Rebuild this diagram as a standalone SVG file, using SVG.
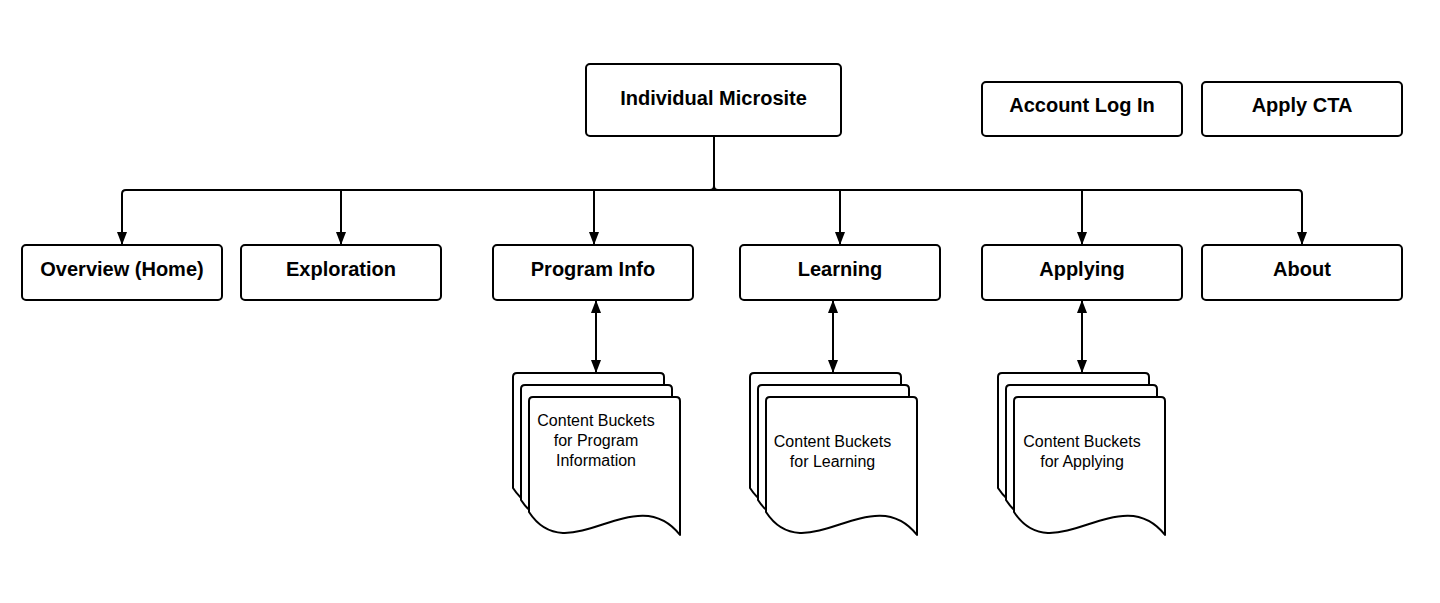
<svg xmlns="http://www.w3.org/2000/svg" xmlns:xlink="http://www.w3.org/1999/xlink" width="1440" height="603" viewBox="0 0 1440 603">
<style>
.box{fill:#fff;stroke:#000;stroke-width:2}
.page{fill:#fff;stroke:#000;stroke-width:2;stroke-linejoin:round}
.t{font-family:"Liberation Sans",Arial,sans-serif;font-weight:bold;font-size:20px;fill:#000;text-anchor:middle}
.d{font-family:"Liberation Sans",Arial,sans-serif;font-size:16px;fill:#000;text-anchor:middle}
.c{fill:none;stroke:#000;stroke-width:2}
</style>
<defs>
<marker id="arr" viewBox="0 0 13 10" refX="13" refY="5" markerWidth="13" markerHeight="10" orient="auto-start-reverse" markerUnits="userSpaceOnUse">
<path d="M0,0 L13,5 L0,10 z" fill="#000"/>
</marker>
<path id="page" d="M0,4 Q0,0 4,0 H147 Q151,0 151,4 V138 C106,81 39,175 0,115 Z"/>
<g id="stack">
<use xlink:href="#page" class="page" transform="translate(-16,-24)"/>
<use xlink:href="#page" class="page" transform="translate(-8,-12)"/>
<use xlink:href="#page" class="page"/>
</g>
</defs>
<rect width="1440" height="603" fill="#fff"/>

<g id="connectors">
<path class="c" d="M122,238 V194 Q122,190 126,190 H1298 Q1302,190 1302,194 V238"/>
<path class="c" d="M714,136 V186 Q714,190 710,190 M714,186 Q714,190 718,190"/>
<path class="c" d="M122,200 V245" marker-end="url(#arr)"/>
<path class="c" d="M341,190 V245" marker-end="url(#arr)"/>
<path class="c" d="M594,190 V245" marker-end="url(#arr)"/>
<path class="c" d="M840,190 V245" marker-end="url(#arr)"/>
<path class="c" d="M1082,190 V245" marker-end="url(#arr)"/>
<path class="c" d="M1302,200 V245" marker-end="url(#arr)"/>
<path class="c" d="M596,300 V373" marker-start="url(#arr)" marker-end="url(#arr)"/>
<path class="c" d="M833,300 V373" marker-start="url(#arr)" marker-end="url(#arr)"/>
<path class="c" d="M1082,300 V373" marker-start="url(#arr)" marker-end="url(#arr)"/>
</g>

<g id="microsite"><rect class="box" x="586" y="64" width="255" height="72" rx="4"/><text class="t" x="713.5" y="105">Individual Microsite</text></g>
<g id="account-login"><rect class="box" x="982" y="82" width="200" height="54" rx="4"/><text class="t" x="1082" y="112">Account Log In</text></g>
<g id="apply-cta"><rect class="box" x="1202" y="82" width="200" height="54" rx="4"/><text class="t" x="1302" y="112">Apply CTA</text></g>

<g id="overview"><rect class="box" x="22" y="245" width="200" height="55" rx="4"/><text class="t" x="122" y="276">Overview (Home)</text></g>
<g id="exploration"><rect class="box" x="241" y="245" width="200" height="55" rx="4"/><text class="t" x="341" y="276">Exploration</text></g>
<g id="program-info"><rect class="box" x="493" y="245" width="200" height="55" rx="4"/><text class="t" x="593" y="276">Program Info</text></g>
<g id="learning"><rect class="box" x="740" y="245" width="200" height="55" rx="4"/><text class="t" x="840" y="276">Learning</text></g>
<g id="applying"><rect class="box" x="982" y="245" width="200" height="55" rx="4"/><text class="t" x="1082" y="276">Applying</text></g>
<g id="about"><rect class="box" x="1202" y="245" width="200" height="55" rx="4"/><text class="t" x="1302" y="276">About</text></g>

<g id="doc-program">
<use xlink:href="#stack" transform="translate(529,397)"/>
<text class="d" x="596" y="426">Content Buckets</text>
<text class="d" x="596" y="446">for Program</text>
<text class="d" x="596" y="466">Information</text>
</g>
<g id="doc-learning">
<use xlink:href="#stack" transform="translate(766,397)"/>
<text class="d" x="832.5" y="447">Content Buckets</text>
<text class="d" x="832.5" y="467">for Learning</text>
</g>
<g id="doc-applying">
<use xlink:href="#stack" transform="translate(1014,397)"/>
<text class="d" x="1082" y="447">Content Buckets</text>
<text class="d" x="1082" y="467">for Applying</text>
</g>
</svg>
